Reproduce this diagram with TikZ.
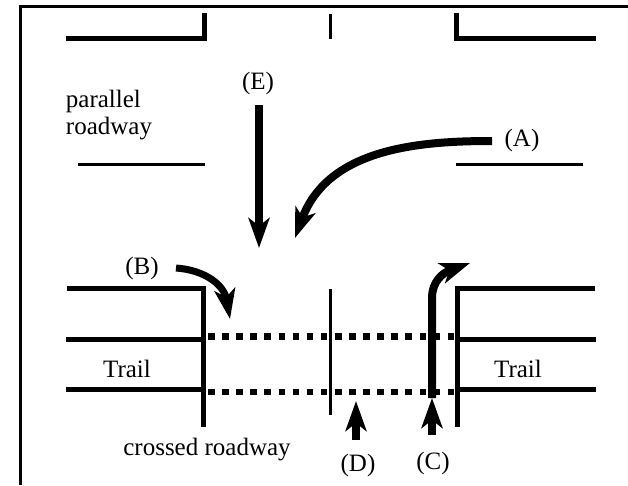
\documentclass[tikz,border=0pt]{standalone}
\usepackage{fontspec}
\setmainfont{Liberation Serif}
\usetikzlibrary{arrows.meta,positioning}
\tikzstyle{road} = [line width=5pt]
\tikzstyle{stripe} = [line width=3pt]
\tikzstyle{xwalk} = [line width=6.6pt,dash pattern=on 6.6pt off 7.5pt]
\tikzstyle{move} = [line width=8pt,-{Stealth[length=30pt,width=21pt,inset=8pt]}]
\tikzstyle{lbl} = [font=\fontsize{25pt}{27pt}\selectfont,inner sep=0pt,align=left]
\begin{document}
\begin{tikzpicture}[x=1pt,y=-1pt]
\useasboundingbox (0,0) rectangle (628,485);
% Frame
\draw[line width=3.2pt] (20.8,485) -- (20.8,6.5) -- (628,6.5);
% Parallel roadway
\draw[road] (66,38) -- (204.5,38) -- (204.5,13);
\draw[road] (456.7,13) -- (456.7,38) -- (595.7,38);
\draw[stripe] (330.7,14) -- (330.7,39);
\draw[stripe] (78,164.3) -- (205,164.3);
\draw[stripe] (456,164.3) -- (583,164.3);
% Crossed roadway
\draw[road] (67,288.7) -- (203.5,288.7) -- (203.5,427);
\draw[road] (595,288.7) -- (457.7,288.7) -- (457.7,427);
\draw[road] (66,339.3) -- (203.5,339.3);
\draw[road] (66,389.3) -- (203.5,389.3);
\draw[road] (457.7,339.3) -- (596,339.3);
\draw[road] (457.7,389.3) -- (596,389.3);
\draw[stripe] (330.7,289) -- (330.7,414.7);
% Crosswalk
\draw[xwalk] (208,336.7) -- (454.5,336.7);
\draw[xwalk] (208,392) -- (454.5,392);
% Labels
\node[lbl] (par) at (109,115) {parallel\\roadway};
\node[lbl] (lE) at (258,83) {(E)};
\node[lbl] (lA) at (522,140) {(A)};
\node[lbl] (lB) at (142,268) {(B)};
\node[lbl] (lD) at (358,465) {(D)};
\node[lbl] (lC) at (433,463) {(C)};
\node[lbl] (tl) at (127,369) {Trail};
\node[lbl] (tr) at (518,369) {Trail};
\node[lbl] (cr) at (207,450) {crossed roadway};
% Movements
\coordinate (e1) at (259,105);
\coordinate (e2) at (259,248);
\coordinate (a1) at (492,141);
\coordinate (a2) at (295,238);
\coordinate (b1) at (176,268);
\coordinate (b2) at (230,319);
\coordinate (c1) at (432,398);
\coordinate (c2) at (470,263);
\coordinate (c3) at (432,435);
\coordinate (c4) at (432,398);
\coordinate (d1) at (356,440);
\coordinate (d2) at (356,401);
\draw[move] (e1) -- (e2);
\draw[move] (a1) .. controls (420,141) and (328,148) .. (a2);
\draw[move,line width=7pt] (b1) .. controls (205,270) and (224,285) .. (b2);
\draw[move] (c1) -- (432,298) .. controls (432,282) and (442,273) .. (c2);
\draw[move] (c3) -- (c4);
\draw[move] (d1) -- (d2);
\end{tikzpicture}
\end{document}
